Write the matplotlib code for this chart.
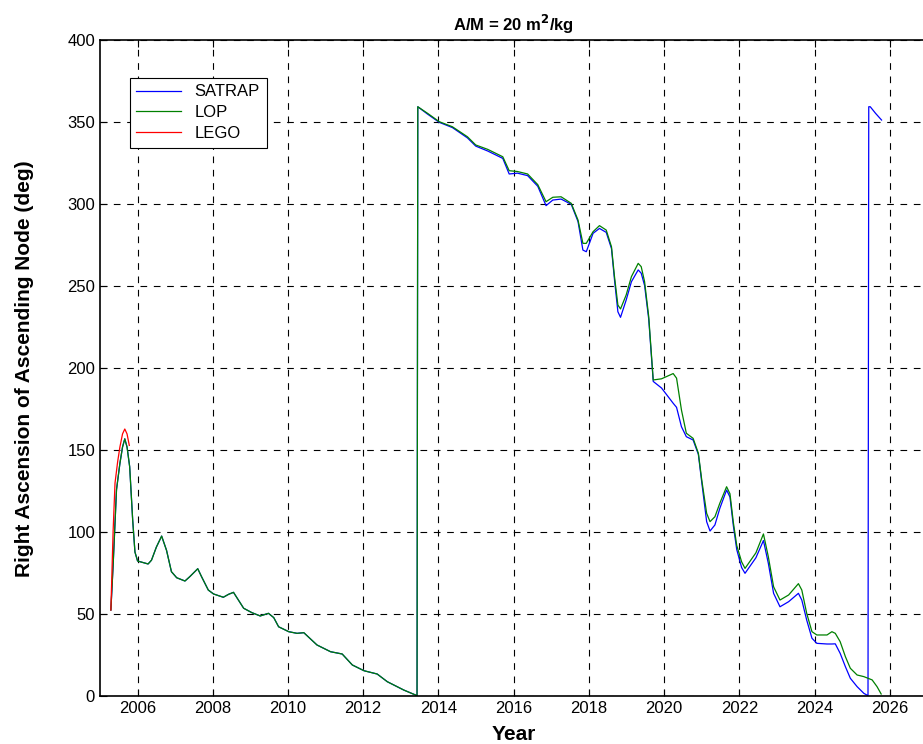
import matplotlib
matplotlib.use("Agg")
import matplotlib.pyplot as plt

plt.rcParams['font.family'] = ['Liberation Sans', 'DejaVu Sans']

# ---- data ----
lop_years = [2005.29, 2005.35, 2005.44, 2005.53, 2005.60, 2005.66, 2005.72, 2005.79, 2005.87, 2005.93,
             2006.00, 2006.28, 2006.37, 2006.50, 2006.64, 2006.77, 2006.90, 2007.04, 2007.26, 2007.39,
             2007.60, 2007.70, 2007.88, 2008.02, 2008.28, 2008.42, 2008.55, 2008.82, 2009.04, 2009.26,
             2009.48, 2009.62, 2009.75, 2010.02, 2010.24, 2010.42, 2010.77, 2011.13, 2011.44, 2011.71,
             2012.02, 2012.37, 2012.64, 2013.08, 2013.39, 2013.43, 2013.45, 2013.71, 2014.02, 2014.37,
             2014.77, 2014.99, 2015.31, 2015.71, 2015.88, 2016.10, 2016.37, 2016.64, 2016.86, 2017.04,
             2017.26, 2017.53, 2017.71, 2017.84, 2017.93, 2018.11, 2018.28, 2018.46, 2018.60, 2018.68,
             2018.77, 2018.84, 2018.99, 2019.13, 2019.31, 2019.39, 2019.48, 2019.59, 2019.71, 2019.93,
             2020.24, 2020.33, 2020.46, 2020.59, 2020.77, 2020.91, 2021.00, 2021.13, 2021.22, 2021.35,
             2021.48, 2021.66, 2021.75, 2021.84, 2021.93, 2022.06, 2022.15, 2022.44, 2022.64, 2022.77,
             2022.91, 2023.08, 2023.31, 2023.57, 2023.66, 2023.79, 2023.93, 2024.06, 2024.33, 2024.46,
             2024.55, 2024.68, 2024.82, 2024.95, 2025.13, 2025.31, 2025.53, 2025.66, 2025.77]
lop_raan = [52.6, 80, 126, 142, 152, 157, 152, 140, 107.5, 88,
            82.5, 80.7, 83, 91, 97.7, 89, 76, 72.3, 70.3, 73,
            77.8, 73, 64.8, 62.4, 60.4, 62.2, 63.4, 53.7, 51, 49,
            50.6, 48, 42.4, 39.4, 38.4, 38.8, 31.3, 27.2, 25.8, 19.1,
            15.6, 13.6, 8.9, 3.8, 0.8, 0.3, 359.5, 355.5, 350.4, 347.3,
            341.2, 336.2, 333.5, 329, 320.5, 320, 318.5, 312, 301.6, 304.3,
            304.6, 300.6, 290.4, 276.2, 276.2, 283.3, 287, 284.3, 274.1, 255.9,
            238.6, 236.2, 244.7, 255.9, 264, 262, 252.8, 231.5, 192.9, 193.6,
            196.8, 194, 174.6, 160.4, 157.3, 148.2, 131.9, 111.6, 106.5, 109.5,
            117.7, 127.8, 123.5, 106, 92, 82, 78, 87.5, 99, 85.1,
            66.8, 58.7, 61.8, 68.7, 64.8, 50.6, 39.4, 37.4, 37.4, 39.4,
            38.4, 33.3, 24.1, 17.1, 13, 12, 10, 5.9, 1.4]

satrap_years = [2005.29, 2005.35, 2005.44, 2005.53, 2005.60, 2005.66, 2005.72, 2005.79, 2005.87, 2005.93,
                2006.00, 2006.28, 2006.37, 2006.50, 2006.64, 2006.77, 2006.90, 2007.04, 2007.26, 2007.39,
                2007.60, 2007.70, 2007.88, 2008.02, 2008.28, 2008.42, 2008.55, 2008.82, 2009.04, 2009.26,
                2009.48, 2009.62, 2009.75, 2010.02, 2010.24, 2010.42, 2010.77, 2011.13, 2011.44, 2011.71,
                2012.02, 2012.37, 2012.64, 2013.08, 2013.39, 2013.43, 2013.45, 2013.71, 2014.02, 2014.37,
                2014.77, 2014.99, 2015.31, 2015.71, 2015.88, 2016.10, 2016.37, 2016.64, 2016.86, 2017.04,
                2017.26, 2017.53, 2017.71, 2017.84, 2017.93, 2018.11, 2018.28, 2018.46, 2018.60, 2018.68,
                2018.77, 2018.84, 2018.99, 2019.13, 2019.31, 2019.39, 2019.48, 2019.59, 2019.71, 2019.93,
                2020.24, 2020.33, 2020.46, 2020.59, 2020.77, 2020.91, 2021.00, 2021.13, 2021.22, 2021.35,
                2021.48, 2021.66, 2021.75, 2021.84, 2021.93, 2022.06, 2022.15, 2022.44, 2022.64, 2022.77,
                2022.91, 2023.08, 2023.31, 2023.57, 2023.66, 2023.79, 2023.93, 2024.06, 2024.33, 2024.46,
                2024.55, 2024.68, 2024.82, 2024.95, 2025.13, 2025.31, 2025.42, 2025.44, 2025.48, 2025.62,
                2025.78]
satrap_raan = [52.6, 80, 126, 142, 152, 157, 152, 140, 107.5, 88,
               82.5, 80.7, 83, 91, 97.7, 89, 76, 72.3, 70.3, 73,
               77.8, 73, 64.8, 62.4, 60.4, 62.2, 63.4, 53.7, 51, 49,
               50.6, 48, 42.4, 39.4, 38.4, 38.8, 31.3, 27.2, 25.8, 19.1,
               15.6, 13.6, 8.9, 3.8, 0.8, 0.3, 359.5, 355, 350, 346.8,
               340.5, 335.5, 332.5, 328, 318.5, 319, 317.5, 311, 299.2, 302.6,
               303.2, 300, 289.5, 272.1, 271.1, 282.3, 285.3, 282.9, 273, 254,
               234.5, 231.1, 241.6, 252.8, 260, 258, 250.5, 230, 192, 188,
               178.7, 176.2, 164.4, 158.3, 156.3, 147.5, 130.5, 106.5, 100.8, 104.5,
               114.6, 125.8, 121.5, 104, 89.5, 78.5, 75, 84.5, 95, 81.1,
               62.8, 54.6, 57.7, 62.8, 58.7, 46.5, 35.4, 32.3, 31.9, 31.9,
               32, 26.2, 18, 11, 5.9, 1.8, 0.4, 359.5, 359.5, 355.5,
               351.4]

lego_years = [2005.29, 2005.35, 2005.40, 2005.47, 2005.53, 2005.60, 2005.66, 2005.72, 2005.78]
lego_raan = [52.6, 101, 130, 143, 152, 160, 163, 160, 153]

x_ticks = [2006, 2008, 2010, 2012, 2014, 2016, 2018, 2020, 2022, 2024, 2026]
y_ticks = [0, 50, 100, 150, 200, 250, 300, 350, 400]

# ---- figure ----
fig = plt.figure(figsize=(9.23, 7.44), dpi=100)
ax = fig.add_axes([0.1083, 0.0641, 0.8965, 0.8817])

ax.plot(satrap_years, satrap_raan, color=(0, 0, 1), lw=0.9, label='SATRAP')
ax.plot(lop_years, lop_raan, color=(0, 0.5, 0), lw=0.9, label='LOP')
ax.plot(lego_years, lego_raan, color=(1, 0, 0), lw=0.9, label='LEGO')

ax.set_xlim(2005, 2027)
ax.set_ylim(0, 400)
ax.set_xticks(x_ticks)
ax.set_yticks(y_ticks)
ax.tick_params(direction='in', length=5, width=0.8, labelsize=12, top=True, right=False)
ax.grid(True, color='black', linestyle=(0, (6, 6)), linewidth=0.8)
for s in ax.spines.values():
    s.set_linewidth(1.2)
ax.spines['right'].set_visible(False)

ax.set_title('A/M = 20 m$^\\mathbf{2}$/kg', fontsize=12, fontweight='bold', pad=7)
ax.set_xlabel('Year', fontsize=15, fontweight='bold', labelpad=6)
ax.set_ylabel('Right Ascension of Ascending Node (deg)', fontsize=15, fontweight='bold', labelpad=24)

leg = ax.legend(loc='upper left', bbox_to_anchor=(0.036, 0.943), fontsize=12,
                frameon=True, fancybox=False, edgecolor='black', framealpha=1,
                handlelength=2.7, borderaxespad=0, labelspacing=0.35, borderpad=0.4)
leg.get_frame().set_linewidth(0.8)

fig.savefig('out.png', dpi=100)
